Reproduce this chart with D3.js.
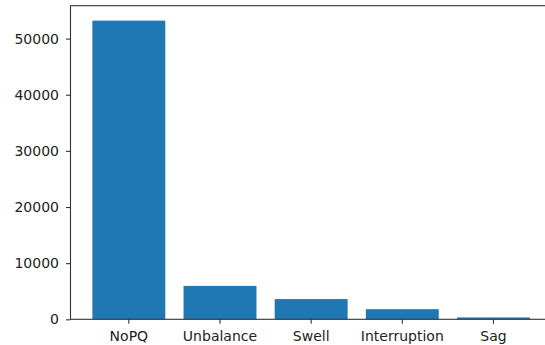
<!DOCTYPE html>
<html>
<head>
<meta charset="utf-8">
<script src="https://cdn.jsdelivr.net/npm/d3@7"></script>
<style>
  html, body { margin: 0; padding: 0; background: #fff; overflow: hidden; }
  svg { display: block; }
  text { font-family: "DejaVu Sans", sans-serif; fill: #222; }
</style>
</head>
<body>
<svg id="chart" width="545" height="345"></svg>
<script>
// Counts of power-quality event classes
const categories = ["NoPQ", "Unbalance", "Swell", "Interruption", "Sag"];
const counts = [53200, 5950, 3600, 1800, 330];
const yTicks = [0, 10000, 20000, 30000, 40000, 50000];

const svg = d3.select("#chart");

// Plot area (right edge runs past the window)
const plotLeft = 70.5, plotRight = 551.8, plotTop = 5.7, plotBottom = 319.3;

const x = d3.scaleBand()
  .domain(categories)
  .range([plotLeft, plotRight])
  .paddingInner(0.2)
  .paddingOuter(0.24);

const y = d3.scaleLinear()
  .domain([0, d3.max(counts) * 1.05])
  .range([plotBottom, plotTop]);

// Bars
svg.append("g")
  .selectAll("rect")
  .data(categories)
  .join("rect")
  .attr("x", d => x(d))
  .attr("width", x.bandwidth())
  .attr("y", (d, i) => y(counts[i]))
  .attr("height", (d, i) => plotBottom - y(counts[i]))
  .attr("fill", "#1f77b4");

// Y axis
const yAxis = svg.append("g")
  .attr("transform", `translate(${plotLeft},0)`)
  .call(d3.axisLeft(y).tickValues(yTicks).tickFormat(d3.format("d")).tickSize(4.5).tickPadding(7));
yAxis.select(".domain").remove();
yAxis.selectAll("line").attr("stroke", "#333").attr("stroke-width", 1.1);
yAxis.selectAll("text").style("font-size", "14px").attr("fill", "#222");

// X axis
const xAxis = svg.append("g")
  .attr("transform", `translate(0,${plotBottom})`)
  .call(d3.axisBottom(x).tickSize(4.5).tickPadding(7));
xAxis.select(".domain").remove();
xAxis.selectAll("line").attr("stroke", "#333").attr("stroke-width", 1.1);
xAxis.selectAll("text").style("font-size", "14px").attr("fill", "#222");

// Frame
svg.append("rect")
  .attr("x", plotLeft)
  .attr("y", plotTop)
  .attr("width", plotRight - plotLeft)
  .attr("height", plotBottom - plotTop)
  .attr("fill", "none")
  .attr("stroke", "#333")
  .attr("stroke-width", 1.1);
</script>
</body>
</html>
